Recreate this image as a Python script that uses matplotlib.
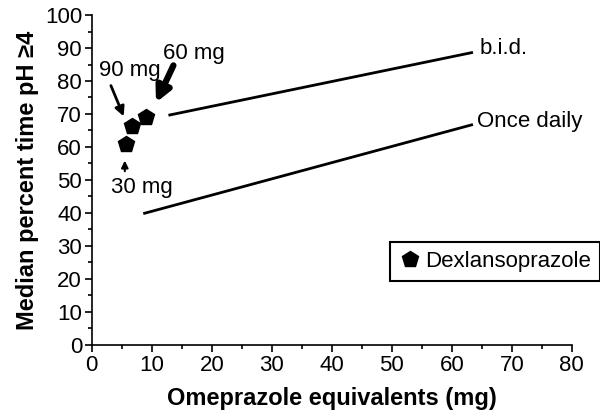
import matplotlib
matplotlib.use("Agg")
import matplotlib.pyplot as plt
from matplotlib.ticker import MultipleLocator

plt.rcParams['font.family'] = ['Liberation Sans', 'DejaVu Sans']

# Dexlansoprazole doses (omeprazole equivalents, median % time pH >= 4)
dose_labels = ['30 mg', '90 mg', '60 mg']
dex_x = [5.7, 6.7, 9.1]
dex_y = [61.0, 66.3, 69.1]

# omeprazole regimens
bid_x = [13.0, 63.3]
bid_y = [69.7, 88.6]
once_x = [8.8, 63.3]
once_y = [39.9, 66.7]

fig = plt.figure(figsize=(6, 4.18), dpi=100)
ax = fig.add_axes([0.153, 0.175, 0.8, 0.789])

ax.plot(bid_x, bid_y, color='black', lw=2)
ax.plot(once_x, once_y, color='black', lw=2)
ax.text(64.7, 90, 'b.i.d.', fontsize=16, va='center', ha='left')
ax.text(64.2, 67.6, 'Once daily', fontsize=16, va='center', ha='left')

ax.plot(dex_x, dex_y, linestyle='none', marker='p', markersize=12,
        color='black', label='Dexlansoprazole')

# dose labels with arrows
ax.text(8.3, 47.6, dose_labels[0], fontsize=16, ha='center', va='center')
ax.annotate('', xy=(5.5, 56.7), xytext=(5.5, 51.8),
            arrowprops=dict(arrowstyle='-|>', color='black', lw=1.5,
                            mutation_scale=10))
ax.text(6.3, 83.3, dose_labels[1], fontsize=16, ha='center', va='center')
ax.annotate('', xy=(5.5, 68.5), xytext=(3.0, 79.4),
            arrowprops=dict(arrowstyle='-|>', color='black', lw=2,
                            mutation_scale=14))
ax.text(17.0, 88.2, dose_labels[2], fontsize=16, ha='center', va='center')
ax.annotate('', xy=(10.5, 72.7), xytext=(13.8, 85.5),
            arrowprops=dict(arrowstyle='-|>', color='black', lw=4.5,
                            mutation_scale=22))

ax.set_xlim(0, 80)
ax.set_ylim(0, 100)
ax.xaxis.set_major_locator(MultipleLocator(10))
ax.xaxis.set_minor_locator(MultipleLocator(5))
ax.yaxis.set_major_locator(MultipleLocator(10))
ax.yaxis.set_minor_locator(MultipleLocator(5))
ax.tick_params(which='major', direction='out', length=5, width=1.2,
               labelsize=16, pad=2)
ax.tick_params(which='minor', direction='out', length=3, width=1.2)
for s in ['top', 'right']:
    ax.spines[s].set_visible(False)
for s in ['left', 'bottom']:
    ax.spines[s].set_linewidth(1.2)

ax.set_xlabel('Omeprazole equivalents (mg)', fontsize=17, fontweight='bold', labelpad=8)
ax.set_ylabel('Median percent time pH \u22654', fontsize=17, fontweight='bold', labelpad=4)

leg = ax.legend(loc='upper left', bbox_to_anchor=(0.65, 0.421),
                bbox_transform=fig.transFigure, fontsize=16, fancybox=False,
                framealpha=1, edgecolor='black', handletextpad=0.2,
                borderpad=0.4, handlelength=1.0, borderaxespad=0)
leg.get_frame().set_linewidth(1.5)

fig.savefig('out.png', dpi=100)
